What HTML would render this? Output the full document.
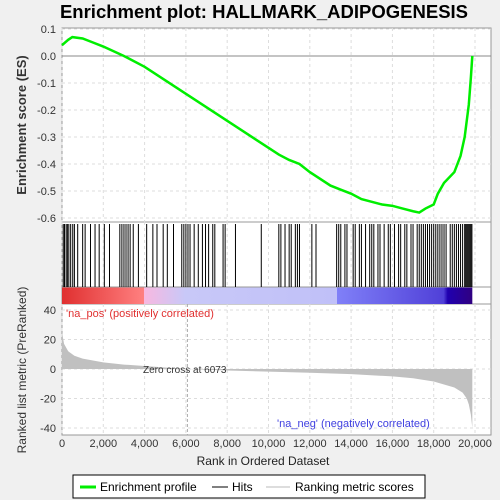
<!DOCTYPE html>
<html><head><meta charset="utf-8"><style>
body{margin:0;background:#f0f0f0;width:500px;height:500px;overflow:hidden}
svg{display:block;font-family:"Liberation Sans",sans-serif}
</style></head><body>
<svg id="c" width="500" height="500">
<defs><linearGradient id="rb" x1="0" x2="1">
<stop offset="0" stop-color="#e03030"/><stop offset="0.2" stop-color="#ff8080"/><stop offset="0.2" stop-color="#f8b8e0"/><stop offset="0.3" stop-color="#c8c8f8"/><stop offset="0.67" stop-color="#c0c0f8"/><stop offset="0.67" stop-color="#8080f8"/><stop offset="0.93" stop-color="#5040d8"/><stop offset="0.94" stop-color="#2000b0"/><stop offset="1" stop-color="#300080"/></linearGradient></defs>
<text x="264" y="18" text-anchor="middle" font-size="18.5" font-weight="bold">Enrichment plot: HALLMARK_ADIPOGENESIS</text>
<g id="g"></g>
</svg>
<script>
const esRanks=[0,300,500,1000,1500,2000,3000,4000,5000,6000,7000,8000,9000,10000,10500,11000,11500,12000,13000,13500,14000,14500,15000,15500,16000,16500,17000,17300,17600,18000,18200,18500,19000,19300,19500,19700,19800,19870];
const esVals=[0.04,0.06,0.07,0.065,0.05,0.035,0.0,-0.04,-0.09,-0.14,-0.19,-0.24,-0.29,-0.34,-0.365,-0.385,-0.40,-0.43,-0.48,-0.495,-0.51,-0.53,-0.54,-0.55,-0.555,-0.565,-0.575,-0.58,-0.565,-0.55,-0.51,-0.47,-0.43,-0.37,-0.30,-0.18,-0.08,0.0];
const hitRanks=[60,120,200,260,330,420,520,600,760,1000,1120,1380,1600,1800,2050,2300,2800,2900,3000,3100,3200,3300,3450,3700,4100,4400,4600,4900,5100,5400,5800,5900,6000,6100,6200,6400,6600,6800,6950,7100,7300,7400,7800,7900,8400,9650,10500,10600,10800,11000,11100,11300,11400,11500,12100,12300,13300,13400,13500,13700,13800,14100,14200,14400,14500,14700,14900,15000,15100,15300,15400,15600,15800,15900,16100,16300,16400,16600,16700,16900,17000,17200,17300,17400,17500,17600,17700,17800,17900,18000,18100,18200,18300,18400,18500,18600,18800,18900,19000,19100,19200,19300,19400,19500,19550,19600,19650,19700,19750,19800,19850];
const metRanks=[0,100,300,600,1000,2000,3000,4000,5000,6073,8000,10000,12000,14000,16000,17000,18000,19000,19400,19600,19700,19800,19870];
const metVals=[25,17,12,9,7,4.5,3,2,1,0,-1,-1.8,-2.5,-3.5,-5,-6.3,-8.5,-12.5,-16,-20,-24,-31,-40];
const xTicks=[0,2000,4000,6000,8000,10000,12000,14000,16000,18000,20000];
const esTicks=[0.1,0.0,-0.1,-0.2,-0.3,-0.4,-0.5,-0.6];
const metTicks=[40,20,0,-20,-40];
const L=62,R=491;
const X=r=>L+r*(475-L)/20000;
const YE=v=>29+(0.1-v)*270;
const YM=v=>369-v*1.475;
const g=document.getElementById('g');let h='';
const fmt=n=>n.toLocaleString('en-US');
h+=`<rect x="${L}" y="28" width="${R-L}" height="194" fill="#fff" stroke="#999"/>`;
h+=`<rect x="${L}" y="222" width="${R-L}" height="82" fill="#fff" stroke="#999"/>`;
h+=`<rect x="${L}" y="304" width="${R-L}" height="131" fill="#fff" stroke="#999"/>`;
xTicks.forEach(t=>{const x=X(t);
 h+=`<line x1="${x}" y1="28" x2="${x}" y2="222" stroke="#ddd" stroke-dasharray="3,3"/><line x1="${x}" y1="304" x2="${x}" y2="435" stroke="#ddd" stroke-dasharray="3,3"/><line x1="${x}" y1="222" x2="${x}" y2="287" stroke="#ddd" stroke-dasharray="3,3"/>`;
 h+=`<text x="${x}" y="447" text-anchor="middle" font-size="11" fill="#333">${fmt(t)}</text>`;});
esTicks.forEach(t=>{const y=YE(t);
 h+=`<line x1="${L}" y1="${y}" x2="${R}" y2="${y}" stroke="#ddd" stroke-dasharray="3,3"/><text x="56" y="${y+4}" text-anchor="end" font-size="11" fill="#333">${t.toFixed(1)}</text>`;});
h+=`<line x1="${L}" y1="${YE(0)}" x2="${R}" y2="${YE(0)}" stroke="#888"/>`;
metTicks.forEach(t=>{const y=YM(t);
 h+=`<line x1="${L}" y1="${y}" x2="${R}" y2="${y}" stroke="#ddd" stroke-dasharray="3,3"/><text x="56" y="${y+4}" text-anchor="end" font-size="11" fill="#333">${t}</text>`;});
let p=`M${X(0)},${YM(0)}`;metRanks.forEach((r,i)=>p+=`L${X(r)},${YM(metVals[i])}`);p+=`L${X(19870)},${YM(0)}Z`;
h+=`<path d="${p}" fill="#c0c0c0"/>`;
h+=`<line x1="${X(6073)}" y1="304" x2="${X(6073)}" y2="435" stroke="#aaa" stroke-dasharray="3,2"/>`;
h+=`<text x="143" y="373" font-size="10" fill="#333">Zero cross at 6073</text>`;
h+=`<text x="66" y="317" font-size="11" fill="#e03030">'na_pos' (positively correlated)</text>`;
h+=`<text x="277" y="427" font-size="11" fill="#4040e0">'na_neg' (negatively correlated)</text>`;
h+=`<rect x="${L}" y="287" width="${X(19870)-L}" height="17" fill="url(#rb)"/>`;
h+=`<line x1="${L}" y1="287" x2="${R}" y2="287" stroke="#999"/>`;
hitRanks.forEach(r=>{h+=`<line x1="${X(r)}" y1="224" x2="${X(r)}" y2="287" stroke="#000" stroke-width="1"/>`;});
let e='';esRanks.forEach((r,i)=>e+=(i?'L':'M')+X(r)+','+YE(esVals[i]));
h+=`<path d="${e}" fill="none" stroke="#00ee00" stroke-width="2.5"/>`;
h+=`<text transform="translate(26,125) rotate(-90)" text-anchor="middle" font-size="13" font-weight="bold" fill="#333">Enrichment score (ES)</text>`;
h+=`<text transform="translate(26,370) rotate(-90)" text-anchor="middle" font-size="12" fill="#333">Ranked list metric (PreRanked)</text>`;
h+=`<text x="263" y="465" text-anchor="middle" font-size="12" fill="#222">Rank in Ordered Dataset</text>`;
h+=`<rect x="73" y="475" width="352" height="23" fill="#fff" stroke="#000"/>`;
h+=`<line x1="80" y1="487" x2="96" y2="487" stroke="#00ee00" stroke-width="3"/><text x="100" y="491" font-size="12">Enrichment profile</text>`;
h+=`<line x1="212" y1="487" x2="228" y2="487" stroke="#000"/><text x="232" y="491" font-size="12">Hits</text>`;
h+=`<line x1="266" y1="487" x2="290" y2="487" stroke="#bbb"/><text x="295" y="491" font-size="12">Ranking metric scores</text>`;
g.innerHTML=h;
</script>
</body></html>
